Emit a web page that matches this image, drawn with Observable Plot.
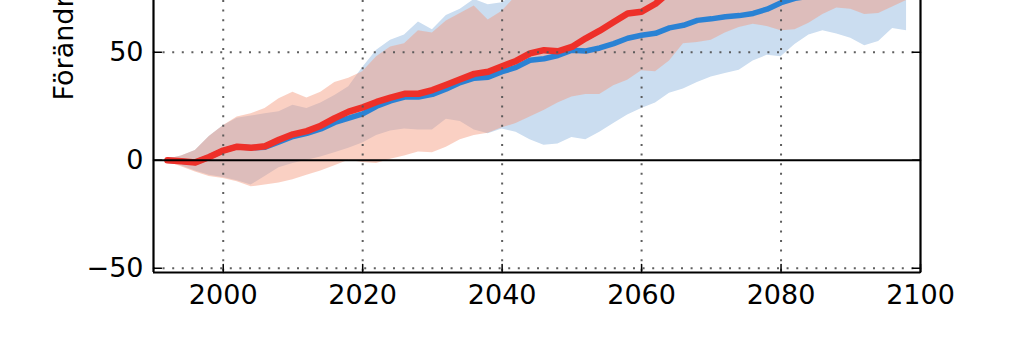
<!DOCTYPE html>
<html>
<head>
<meta charset="utf-8">
<script src="https://cdn.jsdelivr.net/npm/d3@7"></script>
<script src="https://cdn.jsdelivr.net/npm/@observablehq/plot@0.6"></script>
<style>
  html, body { margin: 0; padding: 0; background: white; }
  #chart { width: 1024px; height: 342px; overflow: hidden; }
</style>
</head>
<body>
<div id="chart"></div>
<script>
// ---- data ----
const years = [1992,1994,1996,1998,2000,2002,2004,2006,2008,2010,2012,2014,2016,2018,2020,2022,2024,2026,2028,2030,2032,2034,2036,2038,2040,2042,2044,2046,2048,2050,2052,2054,2056,2058,2060,2062,2064,2066,2068,2070,2072,2074,2076,2078,2080,2082,2084,2086,2088,2090,2092,2094,2096,2098];

const blueMid = [0,-0.5,-1,1.5,4.5,6.3,5.8,6,8.5,11,12.5,14.5,17.5,19.5,21.5,25,27.5,29.3,29.3,30.5,33,36,38,38.5,41,43,46.3,47,48.5,51,50.6,52,54,56.5,57.9,58.8,61.3,62.5,64.8,65.5,66.5,67,68,70,73,75,76,77.5,78.5,79.5,80.5,82,83,84];
const blueLo  = [-0.5,-2.5,-5,-7,-8,-9.5,-11.5,-7.5,-3.5,-1.5,0,1.5,3.5,5.5,8,11.5,13.5,14.5,14,14,19,18,14,12.3,14.5,13,9.5,7,7.5,10.5,9.5,13,17,21,24,26.5,31,33,36,38.6,40.2,41.7,46,48.6,48,53.6,58,60,58.5,56.5,53,55,61,60];
const blueHi  = [0.5,2,4.5,11,16,19.5,20.5,21.5,22.5,25.5,24,26.5,30,34,43,51,55.6,58,64,60.5,67,70,74.5,72,73,77,82,86,89,92,95,98,101,103,106,108,110,112,114,116,118,120,122,124,126,128,130,132,133,135,136,137,138,140];

const redMid = [0,-0.5,-1,1.5,4.5,6.3,5.8,6.5,9.5,12,13.5,16,19.5,22.5,24.5,27,29,30.8,30.8,32.5,35,37.5,40,41,43.5,46,49.5,51,50.5,52.5,56.5,60,64,68,68.8,72.5,78,82,86,89,92,95,98,101,104,106,109,112,114,117,119,122,124,126];
const redLo  = [-0.8,-3,-5.5,-7.5,-8.5,-10,-12.3,-11.5,-10.5,-9,-7,-5,-2.5,0,-1,-1.5,0.5,2,3.8,3.5,6,9.5,11.5,12.5,15,17,20,23,26.5,29.3,30.5,30.5,34.5,37,41.5,41,46,54,54.5,55.6,59,61.5,63,62,60,60.5,63.5,67.5,70.5,70,67.5,68,71,74];
const redHi  = [0.5,2,4.5,11,16,20,21.5,24,28.5,31.5,28.8,31.5,36,38,41,48,52.5,54,60,59,64.5,68,71.5,65,69,76,80,84,86,90,94,97,100,104,108,111,115,118,121,124,127,130,133,136,139,142,145,148,150,153,156,158,160,162];

const xTicks = [2000, 2020, 2040, 2060, 2080, 2100];
const xGrid = [2000, 2020, 2040, 2060, 2080];
const yTicks = [-50, 0, 50];
const yGrid = [-50, 50];
const yLabel = "Förändring (%)";

// ---- tables for the library ----
const blue = years.map((x, i) => ({x, mid: blueMid[i], lo: blueLo[i], hi: blueHi[i]}));
const red  = years.map((x, i) => ({x, mid: redMid[i], lo: redLo[i], hi: redHi[i]}));

const tickShape = { draw(context, l) { context.moveTo(0, 0); context.lineTo(0, -l); } };
const fmt = d => d < 0 ? "\u2212" + Math.abs(d) : String(d);
const gridStyle = {stroke: "#555", strokeOpacity: 0.95, strokeWidth: 2, strokeDasharray: "2,7.6"};

const chart = Plot.plot({
  width: 1024,
  height: 342,
  marginLeft: 153,
  marginRight: 104,
  marginTop: 0,
  marginBottom: 70,
  x: {domain: [1990, 2100]},
  y: {domain: [-52, 74]},
  style: {fontFamily: "DejaVu Sans", fontSize: "27px", background: "white", color: "black"},
  marks: [
    Plot.areaY(blue, {x: "x", y1: "lo", y2: "hi", fill: "rgb(203,221,240)", clip: true}),
    Plot.areaY(red, {x: "x", y1: "lo", y2: "hi", fill: "rgb(244,151,122)", fillOpacity: 0.45, clip: true}),
    Plot.line(blue, {x: "x", y: "mid", stroke: "#2a82d4", strokeWidth: 5.5, strokeLinejoin: "round", clip: true}),
    Plot.line(red, {x: "x", y: "mid", stroke: "#ee3029", strokeWidth: 6.5, strokeLinejoin: "round", clip: true}),
    Plot.gridX(xGrid, gridStyle),
    Plot.gridY(yGrid, gridStyle),
    Plot.ruleY([0], {stroke: "black", strokeWidth: 2.2}),
    Plot.ruleX([1990, 2100], {stroke: "black", strokeWidth: 2.2}),
    Plot.ruleY([-52], {stroke: "black", strokeWidth: 2.2}),
    Plot.vector(xTicks, {x: d => d, y: -52, length: 8, rotate: 0, anchor: "start", shape: tickShape, stroke: "black", strokeWidth: 1.5}),
    Plot.vector(yTicks, {x: 1990, y: d => d, length: 8, rotate: 90, anchor: "start", shape: tickShape, stroke: "black", strokeWidth: 1.5}),
    Plot.vector(yTicks, {x: 2100, y: d => d, length: 8, rotate: -90, anchor: "start", shape: tickShape, stroke: "black", strokeWidth: 1.5}),
    Plot.axisX({ticks: xTicks, tickSize: 0, tickPadding: 12, label: null, tickFormat: d => String(d)}),
    Plot.axisY({ticks: yTicks, tickSize: 0, tickPadding: 10, label: null, tickFormat: fmt}),
    Plot.text([yLabel], {frameAnchor: "left", rotate: -90, textAnchor: "start", lineAnchor: "bottom", dx: -81, dy: -36, fontSize: 27, fill: "black"})
  ]
});
document.getElementById("chart").appendChild(chart);
</script>
</body>
</html>
